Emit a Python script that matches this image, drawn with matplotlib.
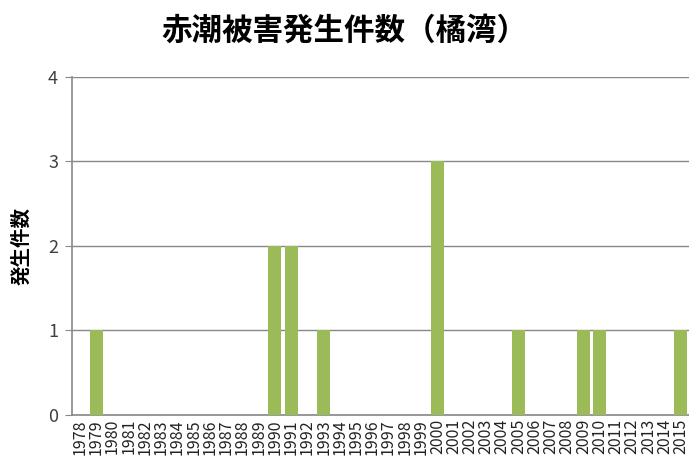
import numpy as np
import matplotlib.pyplot as plt

plt.rcParams['font.family'] = ['Noto Sans CJK JP', 'DejaVu Sans']

years = list(range(1978, 2016))
counts = [0, 1, 0, 0, 0, 0, 0, 0, 0, 0, 0, 0, 2, 2, 0, 1, 0, 0, 0, 0,
          0, 0, 3, 0, 0, 0, 0, 1, 0, 0, 0, 1, 1, 0, 0, 0, 0, 1]
yticks = [0, 1, 2, 3, 4]

fig = plt.figure(figsize=(6.89, 4.72), dpi=100)
ax = fig.add_axes([0.1045, 0.121, 0.8955, 0.716])

x = np.arange(len(years))
ax.bar(x, counts, width=0.8, color='#9BBB59', zorder=3)

ax.set_xlim(-0.5, len(years) - 0.5)
ax.set_ylim(0, 4)
ax.set_yticks(yticks)
ax.set_yticklabels([str(t) for t in yticks], fontsize=13, color='#404040')
ax.set_xticks(x)
ax.set_xticklabels([str(y) for y in years], rotation=90, fontsize=11.5, color='#222222')
ax.tick_params(axis='x', length=0, pad=3)
ax.tick_params(axis='y', length=5, color='#888888', pad=5)

ax.grid(axis='y', color='#888888', linewidth=1, zorder=0)
for s in ['top', 'right']:
    ax.spines[s].set_visible(False)
for s in ['left', 'bottom']:
    ax.spines[s].set_color('#888888')
    ax.spines[s].set_linewidth(1.2)

ax.set_ylabel('発生件数', fontsize=14, fontweight='bold', labelpad=12)
fig.suptitle('赤潮被害発生件数（橘湾）', fontsize=22, fontweight='bold', y=0.97)

plt.savefig('out.png', dpi=100)
plt.close()
